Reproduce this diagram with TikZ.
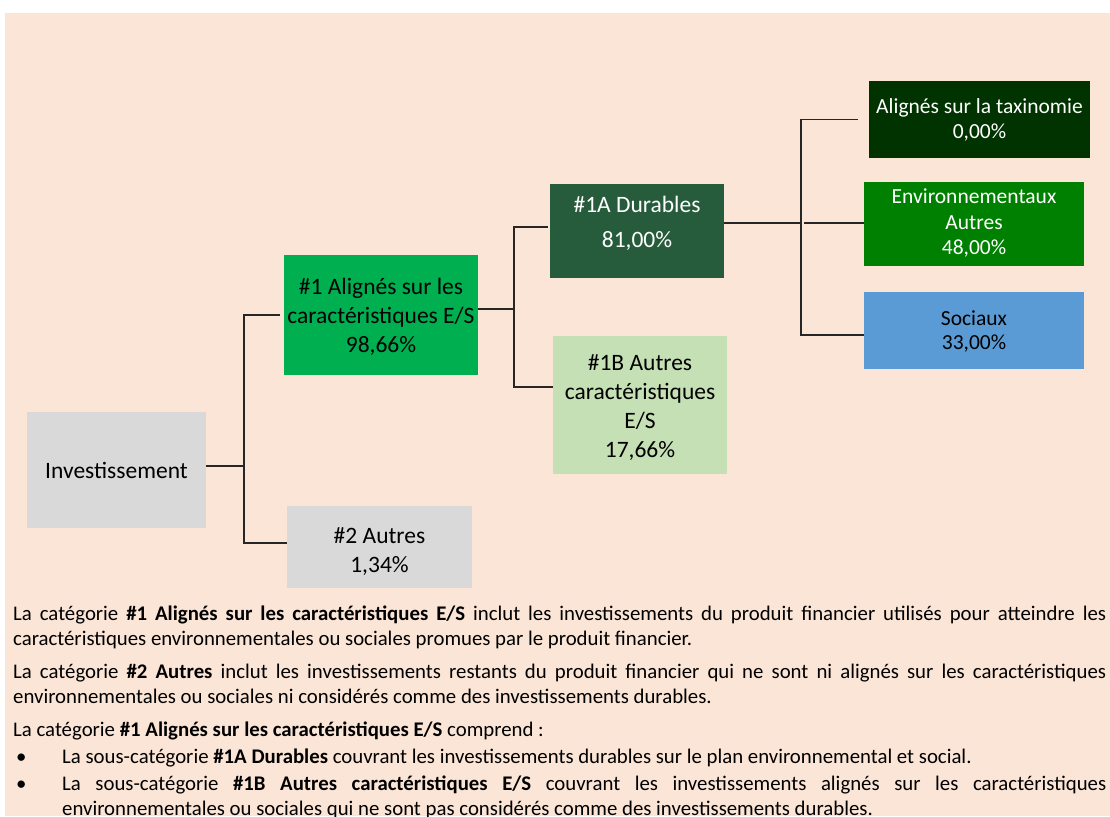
\documentclass[tikz,border=0pt]{standalone}
\usepackage{fontspec}
\setmainfont{Carlito}
\usepackage{xcolor}
\usepackage{tikz}
\definecolor{peach}{HTML}{FBE5D6}
\definecolor{greybox}{HTML}{D9D9D9}
\definecolor{esgreen}{HTML}{00B050}
\definecolor{durgreen}{HTML}{265B3C}
\definecolor{lightgreen}{HTML}{C5E0B4}
\definecolor{taxgreen}{HTML}{003300}
\definecolor{envgreen}{HTML}{008000}
\definecolor{socblue}{HTML}{5B9BD5}

\begin{document}
\begin{tikzpicture}[x=1pt,y=-1pt]
	\useasboundingbox (0,0) rectangle (1110,816);
	\fill[peach] (5,13) rectangle (1110,816);
	\tikzstyle{box}=[inner sep=0pt,align=center,font=\fontsize{23.5}{29}\selectfont];
	\tikzstyle{smallbox}=[box,font=\fontsize{21.5}{25}\selectfont];
	\tikzstyle{link}=[line width=1.3pt,black!85];
	\node[box,fill=greybox,minimum width=179pt,minimum height=116pt] (inv) at (116.5,470) {Investissement};
	\node[box,fill=esgreen,minimum width=194pt,minimum height=120pt,text height=74pt,text depth=0pt] (al1) at (381,315) {\#1 Alignés sur les\\caractéristiques E/S\\98,66\%};
	\node[box,fill=greybox,minimum width=185pt,minimum height=82pt,text height=50pt,text depth=0pt] (aut2) at (379.5,547) {\#2 Autres\\1,34\%};
	\node[box,fill=durgreen,text=white,minimum width=174pt,minimum height=94pt,text height=49pt,text depth=17pt] (dur1a) at (637,231) {\#1A Durables\\[6pt]81,00\%};
	\node[box,fill=lightgreen,minimum width=174pt,minimum height=138pt,text height=104pt,text depth=0pt] (aut1b) at (640,405) {\#1B Autres\\caractéristiques\\E/S\\17,66\%};
	\node[smallbox,fill=taxgreen,text=white,minimum width=221pt,minimum height=77pt,text height=38pt,text depth=0pt] (tax) at (979.5,119.5) {Alignés sur la taxinomie\\0,00\%};
	\node[smallbox,fill=envgreen,text=white,minimum width=220pt,minimum height=84pt,text height=64pt,text depth=3pt,font=\fontsize{21.5}{25.5}\selectfont] (env) at (974,224) {Environnementaux\\Autres\\48,00\%};
	\node[smallbox,fill=socblue,minimum width=220pt,minimum height=77pt,text height=37pt,text depth=0pt,font=\fontsize{21.5}{24}\selectfont] (soc) at (974,330.5) {Sociaux\\33,00\%};
	% connectors
	\coordinate (j1) at (244,466);
	\coordinate (j2) at (514,309);
	\coordinate (j3) at (801,223);
	\draw[link] (inv.east |- j1) -- (j1) |- ([xshift=-4pt]al1.west);
	\draw[link] (j1) |- ([yshift=4pt]aut2.west);
	\draw[link] (al1.east |- j2) -- (j2) |- ([xshift=-2pt,yshift=4pt]dur1a.west);
	\draw[link] (j2) |- ([yshift=18pt]aut1b.west);
	\draw[link] (dur1a.east |- j3) -- (j3) |- ([xshift=-11pt]tax.west);
	\draw[link] ([xshift=3pt]j3) -- (env.west |- j3);
	\draw[link] (j3) |- ([yshift=-4.5pt]soc.west);
	% notes below the chart
	\node[anchor=north west,inner sep=0pt,text width=1093pt,align=justify,font=\fontsize{20.8}{25}\selectfont] (notes) at (13,606) {%
		\parindent=0pt\parskip=8pt
		La catégorie \textbf{\#1 Alignés sur les caractéristiques E/S} inclut les investissements du produit financier utilisés pour atteindre les\linebreak caractéristiques environnementales ou sociales promues par le produit financier.\par
		La catégorie \textbf{\#2 Autres} inclut les investissements restants du produit financier qui ne sont ni alignés sur les caractéristiques\linebreak environnementales ou sociales ni considérés comme des investissements durables.\par
		La catégorie \textbf{\#1 Alignés sur les caractéristiques E/S} comprend :\par
		\parskip=2pt
		\hangindent=49pt\hangafter=1\makebox[49pt][l]{\hspace{3pt}\textbullet}La sous-catégorie \textbf{\#1A Durables} couvrant les investissements durables sur le plan environnemental et social.\par
		\hangindent=49pt\hangafter=1\makebox[49pt][l]{\hspace{3pt}\textbullet}La sous-catégorie \textbf{\#1B Autres caractéristiques E/S} couvrant les investissements alignés sur les caractéristiques\linebreak environnementales ou sociales qui ne sont pas considérés comme des investissements durables.\par
	};
\end{tikzpicture}
\end{document}
